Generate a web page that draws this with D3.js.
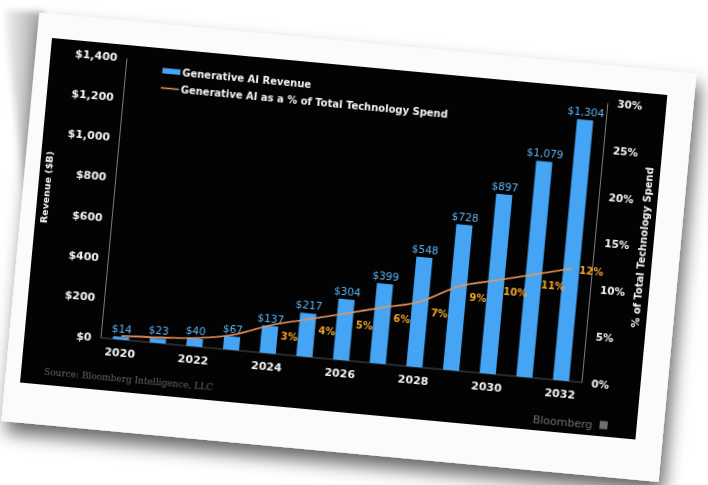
<!DOCTYPE html>
<html>
<head>
<meta charset="utf-8">
<script src="https://cdn.jsdelivr.net/npm/d3@7/dist/d3.min.js"></script>
<style>
  html, body { margin: 0; padding: 0; background: #ffffff; }
  svg { display: block; }
</style>
</head>
<body>
<svg id="chart" width="708" height="485"></svg>
<script>
// Generative AI revenue forecast ($B) and its share of total technology spend (%)
const years = [2020, 2021, 2022, 2023, 2024, 2025, 2026, 2027, 2028, 2029, 2030, 2031, 2032];
const revenue = [14, 23, 40, 67, 137, 217, 304, 399, 548, 728, 897, 1079, 1304];
const share = [0.4, 0.6, 0.9, 1.6, 3, 4, 5, 6, 7, 9, 10, 11, 12];
const shareLabelled = [false, false, false, false, true, true, true, true, true, true, true, true, true];
const xTickYears = [2020, 2022, 2024, 2026, 2028, 2030, 2032];
const revenueTicks = [0, 200, 400, 600, 800, 1000, 1200, 1400];
const shareTicks = [0, 5, 10, 15, 20, 25, 30];
const legendLabels = ["Generative AI Revenue", "Generative AI as a % of Total Technology Spend"];
const sourceText = "Source: Bloomberg Intelligence, LLC";

const svg = d3.select("#chart");
const defs = svg.append("defs");

// soft shadow for the printed card
const shadow = defs.append("filter").attr("id", "cardShadow")
  .attr("x", "-20%").attr("y", "-20%").attr("width", "140%").attr("height", "140%");
shadow.append("feDropShadow").attr("dx", 5).attr("dy", 11).attr("stdDeviation", 9)
  .attr("flood-color", "#000").attr("flood-opacity", 0.6);

const soft = defs.append("filter").attr("id", "soft");
soft.append("feGaussianBlur").attr("stdDeviation", 3);

const glow = defs.append("filter").attr("id", "glow");
glow.append("feGaussianBlur").attr("stdDeviation", 0.45);

const wedgeGrad = defs.append("linearGradient").attr("id", "wedge")
  .attr("x1", "0").attr("y1", "0").attr("x2", "1").attr("y2", "0");
wedgeGrad.append("stop").attr("offset", "0%").attr("stop-color", "#f2f2f2");
wedgeGrad.append("stop").attr("offset", "100%").attr("stop-color", "#a4a4a4");

// second sheet peeking out behind the card
svg.append("path")
  .attr("d", "M4,10 L44,12 L27,215 Z")
  .attr("fill", "url(#wedge)")
  .attr("filter", "url(#soft)");

// the card and the chart panel share one tilted frame
const W = 618, H = 346;
const frame = svg.append("g").attr("transform", "translate(52,38) rotate(5.3)");

frame.append("rect")
  .attr("x", -15).attr("y", -24).attr("width", 660).attr("height", 410)
  .attr("fill", "#fbfbfb")
  .attr("filter", "url(#cardShadow)");

frame.append("rect")
  .attr("x", 0).attr("y", 0).attr("width", W).attr("height", H)
  .attr("fill", "#030303");

const chart = frame.append("g").attr("filter", "url(#glow)");

const plotL = 76, plotR = 559, plotT = 13, plotB = 294;

const x = d3.scaleBand().domain(years).range([77, 558])
  .paddingInner(0.56).paddingOuter(0.31);
const yL = d3.scaleLinear().domain([0, 1400]).range([plotB, plotT]);
const yR = d3.scaleLinear().domain([0, 30]).range([plotB, plotT]);

const fmtMoney = v => "$" + d3.format(",")(v);

// axes
const leftAxis = d3.axisLeft(yL).tickValues(revenueTicks).tickFormat(fmtMoney).tickSize(0).tickPadding(9);
const rightAxis = d3.axisRight(yR).tickValues(shareTicks).tickFormat(d => d + "%").tickSize(0).tickPadding(10);
const bottomAxis = d3.axisBottom(x).tickValues(xTickYears).tickFormat(d3.format("d")).tickSize(0).tickPadding(9);

function styleAxis(g) {
  g.select(".domain").attr("stroke", "#7a7a7a").attr("stroke-width", 1);
  g.selectAll("text")
    .attr("fill", "#f2f2f2")
    .attr("font-family", "DejaVu Sans, Verdana, sans-serif")
    .attr("font-weight", "bold")
    .attr("font-size", 11);
}

chart.append("g").attr("transform", `translate(${plotL},0)`).call(leftAxis).call(styleAxis);
chart.append("g").attr("transform", `translate(${plotR},0)`).call(rightAxis).call(styleAxis)
  .selectAll("text").attr("font-size", 10.5);
const bAxis = chart.append("g").attr("transform", `translate(0,${plotB})`).call(bottomAxis).call(styleAxis);
bAxis.select(".domain").remove();
chart.append("line")
  .attr("x1", plotL).attr("x2", plotR).attr("y1", plotB).attr("y2", plotB)
  .attr("stroke", "#4a4a4a").attr("stroke-width", 1);

// axis titles
chart.append("text")
  .attr("transform", `translate(12,149) rotate(-90)`)
  .attr("text-anchor", "middle")
  .attr("fill", "#f2f2f2")
  .attr("font-family", "DejaVu Sans, Verdana, sans-serif")
  .attr("font-weight", "bold").attr("font-size", 9.5)
  .text("Revenue ($B)");
chart.append("text")
  .attr("transform", `translate(611,154) rotate(-90)`)
  .attr("text-anchor", "middle")
  .attr("fill", "#f2f2f2")
  .attr("font-family", "DejaVu Sans, Verdana, sans-serif")
  .attr("font-weight", "bold").attr("font-size", 10)
  .text("% of Total Technology Spend");

// revenue bars
const barColor = "#45a5f4";
chart.append("g").selectAll("rect")
  .data(years)
  .join("rect")
  .attr("x", d => x(d))
  .attr("width", x.bandwidth())
  .attr("y", (d, i) => yL(revenue[i]))
  .attr("height", (d, i) => yL(0) - yL(revenue[i]))
  .attr("fill", barColor);

// revenue value labels
chart.append("g").selectAll("text")
  .data(years)
  .join("text")
  .attr("x", d => x(d) + x.bandwidth() / 2)
  .attr("y", (d, i) => yL(revenue[i]) - 4)
  .attr("text-anchor", "middle")
  .attr("fill", "#5db0f2")
  .attr("font-family", "DejaVu Sans, Verdana, sans-serif")
  .attr("font-size", 10.5)
  .text((d, i) => fmtMoney(revenue[i]));

// share line
const lineColor = "#ea9458";
const line = d3.line()
  .x((d, i) => x(years[i]) + x.bandwidth() / 2)
  .y(d => yR(d))
  .curve(d3.curveMonotoneX);
chart.append("path")
  .datum(share)
  .attr("d", line)
  .attr("fill", "none")
  .attr("stroke", lineColor)
  .attr("stroke-width", 1.6);

// share labels, set just right of each point
const lastIdx = share.length - 1;
chart.append("g").selectAll("text")
  .data(share.map((v, i) => ({ v, i })).filter(d => shareLabelled[d.i]))
  .join("text")
  .attr("x", d => x(years[d.i]) + x.bandwidth() / 2 + 20)
  .attr("y", d => yR(d.v) + (d.i === lastIdx ? 4 : 13.5))
  .attr("text-anchor", "middle")
  .attr("fill", "#f0a22c")
  .attr("font-family", "DejaVu Sans, Verdana, sans-serif")
  .attr("font-weight", "bold")
  .attr("font-size", 10)
  .text(d => d.v + "%");

// legend
const legend = chart.append("g");
legend.append("rect")
  .attr("x", 113).attr("y", 19.5).attr("width", 18).attr("height", 5.5)
  .attr("fill", barColor);
legend.append("line")
  .attr("x1", 113).attr("x2", 131).attr("y1", 39.5).attr("y2", 39.5)
  .attr("stroke", lineColor).attr("stroke-width", 1.5);
legend.selectAll("text")
  .data(legendLabels)
  .join("text")
  .attr("x", 133)
  .attr("y", (d, i) => 26 + i * 17)
  .attr("fill", "#f2f2f2")
  .attr("font-family", "DejaVu Sans, Verdana, sans-serif")
  .attr("font-weight", "bold")
  .attr("font-size", 10)
  .text(d => d);

// footer
chart.append("text")
  .attr("x", 23).attr("y", 336)
  .attr("fill", "#626262")
  .attr("font-family", "DejaVu Serif, serif")
  .attr("font-size", 9)
  .text(sourceText);

chart.append("text")
  .attr("x", 514).attr("y", 339)
  .attr("fill", "#6e6e6e")
  .attr("font-family", "DejaVu Sans, Verdana, sans-serif")
  .attr("font-size", 11)
  .text("Bloomberg");
chart.append("rect")
  .attr("x", 581).attr("y", 330.5).attr("width", 8).attr("height", 8)
  .attr("fill", "#6e6e6e");
</script>
</body>
</html>
